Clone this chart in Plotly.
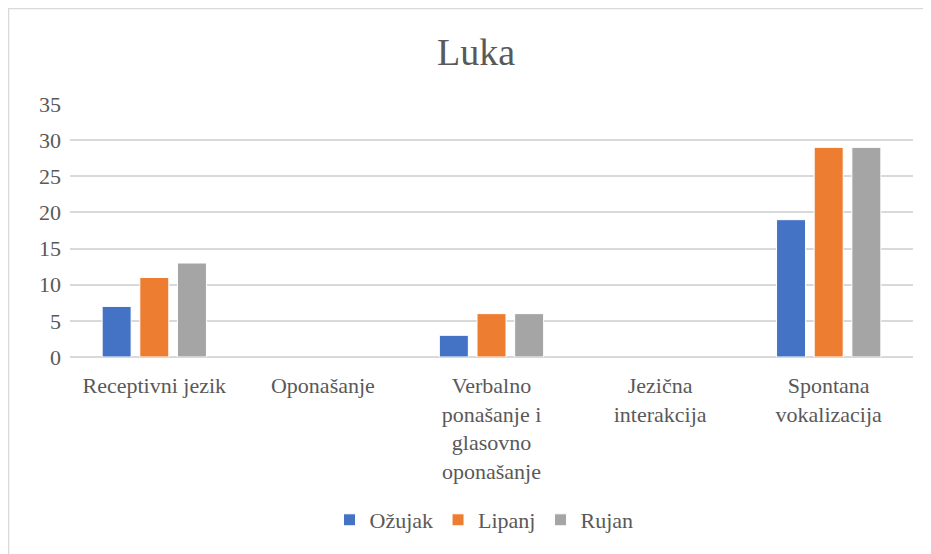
import plotly.graph_objects as go

categories = ["Receptivni jezik", "Oponašanje", "Verbalno ponašanje i glasovno oponašanje",
              "Jezična interakcija", "Spontana vokalizacija"]
tick_labels = ["Receptivni jezik", "Oponašanje", "Verbalno<br>ponašanje i<br>glasovno<br>oponašanje",
               "Jezična<br>interakcija", "Spontana<br>vokalizacija"]
ozujak = [7, 0, 3, 0, 19]
lipanj = [11, 0, 6, 0, 29]
rujan = [13, 0, 6, 0, 29]
series_names = ["Ožujak", "Lipanj", "Rujan"]
colors = ["#4472C4", "#ED7D31", "#A5A5A5"]

FONT = "Liberation Serif"
TXT = "#595959"

fig = go.Figure()
for name, vals, col in zip(series_names, [ozujak, lipanj, rujan], colors):
    outline = ["white" if v else "rgba(0,0,0,0)" for v in vals]
    fig.add_trace(go.Bar(x=categories, y=vals, name=name, marker_color=col,
                         marker_line=dict(color=outline, width=1)))

# page body has an 8px margin, so the figure is 8px smaller and offset
OFF = 8
W, H = 931 - OFF, 554 - OFF
L, R, T, B = 70 - OFF, 18, 104 - OFF, 197
pw, ph = W - L - R, H - T - B

def px_x(p):
    return (p - OFF - L) / pw

def px_y(p):
    return (H - B - (p - OFF)) / ph

fig.update_layout(
    width=W, height=H,
    margin=dict(l=L, r=R, t=T, b=B),
    paper_bgcolor="white", plot_bgcolor="white",
    barmode="group", bargap=0.33, bargroupgap=0.23,
    font=dict(family=FONT, color=TXT, size=22),
    title=dict(text="Luka", x=(476 - OFF) / W, xref="container", xanchor="center",
               y=1 - (52 - OFF) / H, yref="container", yanchor="middle",
               font=dict(family=FONT, size=38, color=TXT)),
    xaxis=dict(tickmode="array", tickvals=categories, ticktext=tick_labels,
               showgrid=False, showline=False, ticks="", ticklabelstandoff=13,
               tickfont=dict(family=FONT, size=22, color=TXT), tickangle=0),
    yaxis=dict(range=[0, 35], dtick=5, showgrid=True, gridcolor="#D9D9D9", gridwidth=1.5,
               zeroline=True, zerolinecolor="#D9D9D9", zerolinewidth=1.5,
               showline=False, ticks="", ticklabelstandoff=8,
               tickfont=dict(family=FONT, size=22, color=TXT)),
    legend=dict(orientation="h", xref="container", x=(484 - OFF) / W, xanchor="center",
                yref="container", y=1 - (520 - OFF) / H, yanchor="middle",
                font=dict(family=FONT, size=22, color=TXT), itemwidth=30, traceorder="normal"),
    showlegend=True,
)

fig.add_shape(type="rect", xref="paper", yref="paper",
              x0=px_x(OFF + 0.5), x1=px_x(945), y0=px_y(OFF + 0.5), y1=px_y(570),
              line=dict(color="#D9D9D9", width=1.5), fillcolor="rgba(0,0,0,0)", layer="below")

fig.write_html("out.html")
